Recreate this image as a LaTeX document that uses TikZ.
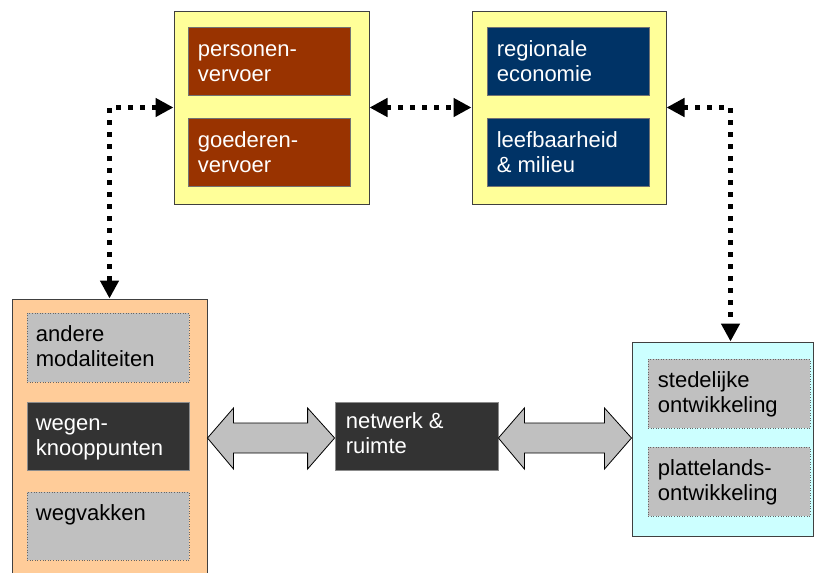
\documentclass[tikz,border=0pt]{standalone}
\usepackage{fontspec}
\setmainfont{Liberation Sans}
\usetikzlibrary{arrows.meta,calc,fit}

\definecolor{paleyellow}{HTML}{FFFF99}
\definecolor{rust}{HTML}{993300}
\definecolor{navy}{HTML}{003366}
\definecolor{peach}{HTML}{FFCC99}
\definecolor{paleaqua}{HTML}{CCFFFF}
\definecolor{silver}{HTML}{C0C0C0}
\definecolor{charcoal}{HTML}{333333}

\newcommand\lbl[1]{\parbox[t]{160pt}{\raggedright #1}}

\tikzset{
  frame/.style={draw=black!75, line width=1pt, inner sep=0pt},
  yellowbox/.style={frame, fill=paleyellow},
  peachbox/.style={frame, fill=peach},
  aquabox/.style={frame, fill=paleaqua},
  rustbox/.style={draw=black!55, line width=0.8pt, fill=rust, inner sep=0pt},
  navybox/.style={draw=black!55, line width=0.8pt, fill=navy, inner sep=0pt},
  darkbox/.style={draw=black!45, line width=0.8pt, fill=charcoal, inner sep=0pt},
  greybox/.style={draw=black!60, line width=0.6pt, dotted, fill=silver, inner sep=0pt},
  txt/.style={inner sep=0pt, anchor=base west, font=\fontsize{22}{25}\selectfont},
  wtxt/.style={txt, text=white},
  dotarrow/.style={line width=5pt, dash pattern=on 5pt off 7pt,
    {Triangle[length=18pt,width=18pt]}-{Triangle[length=18pt,width=18pt]}},
  blockarrow/.style={draw=black, line width=0.8pt, fill=silver, line join=miter}
}

% two-headed block arrow from #1 (left tip) to #2 (right tip)
\newcommand\wideconnector[2]{%
  \draw[blockarrow] (#1) -- ($(#1)+(26,-30)$) -- ($(#1)+(26,-15)$)
    -- ($(#2)+(-27,-15)$) -- ($(#2)+(-27,-30)$) -- (#2)
    -- ($(#2)+(-27,31)$) -- ($(#2)+(-27,15)$)
    -- ($(#1)+(26,15)$) -- ($(#1)+(26,31)$) -- cycle;}

\begin{document}
\begin{tikzpicture}[x=1pt,y=-1pt]
\useasboundingbox (0,0) rectangle (814,573);

% transport demand
\node[yellowbox, fit={(174,11) (369,204)}] (yL) {};
\node[rustbox, fit={(188,27) (350,95)}] (pers) {};
\node[rustbox, fit={(188,118) (350,186)}] (goed) {};
\node[wtxt] (perst) at ($(pers.north west)+(10,30)$) {\lbl{personen-\\vervoer}};
\node[wtxt] (goedt) at ($(goed.north west)+(10,30)$) {\lbl{goederen-\\vervoer}};

% region
\node[yellowbox, fit={(472,11) (666,204)}] (yR) {};
\node[navybox, fit={(487,27) (649,95)}] (reg) {};
\node[navybox, fit={(487,118) (649,186)}] (leef) {};
\node[wtxt] (regt) at ($(reg.north west)+(10,30)$) {\lbl{regionale\\economie}};
\node[wtxt] (leeft) at ($(leef.north west)+(10,30)$) {\lbl{leefbaarheid\\\& milieu}};

% road network
\node[peachbox, fit={(12,299) (207,580)}] (obox) {};
\node[greybox, fit={(27,313) (189,382)}] (andere) {};
\node[darkbox, fit={(27,402) (189,470)}] (wegen) {};
\node[greybox, fit={(27,492) (189,560)}] (wegv) {};
\node[txt] (anderet) at ($(andere.north west)+(9,29)$) {\lbl{andere\\modaliteiten}};
\node[wtxt] (wegent) at ($(wegen.north west)+(9,29)$) {\lbl{wegen-\\knooppunten}};
\node[txt] (wegvt) at ($(wegv.north west)+(9,29)$) {\lbl{wegvakken}};

% network and space
\node[darkbox, fit={(335,402) (498,470)}] (net) {};
\node[wtxt] (nett) at ($(net.north west)+(11,27)$) {\lbl{netwerk \&\\ruimte}};

% spatial development
\node[aquabox, fit={(632,342) (813,536)}] (cbox) {};
\node[greybox, fit={(648,359) (810,428)}] (sted) {};
\node[greybox, fit={(648,447) (810,516)}] (plat) {};
\node[txt] (stedt) at ($(sted.north west)+(10,29)$) {\lbl{stedelijke\\ontwikkeling}};
\node[txt] (platt) at ($(plat.north west)+(10,29)$) {\lbl{plattelands-\\ontwikkeling}};

% dotted relations
\draw[dotarrow] (yL.west) -| (obox.north);
\draw[dotarrow] (yL.east) -- (yR.west);
\coordinate (cTop) at ($(cbox.north)+(8,0)$);
\draw[dotarrow] (yR.east) -| (cTop);

% block arrows
\coordinate (a1) at (obox.east |- 0,438);
\coordinate (a2) at (net.west |- 0,438);
\coordinate (a3) at (net.east |- 0,438);
\coordinate (a4) at (cbox.west |- 0,438);
\wideconnector{a1}{a2}
\wideconnector{a3}{a4}
\end{tikzpicture}
\end{document}
